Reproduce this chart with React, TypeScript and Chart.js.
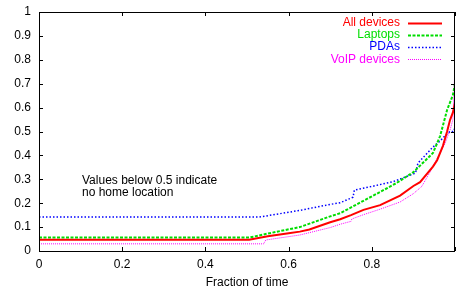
import React, { useEffect, useRef } from "react";
import { Chart, registerables } from "chart.js";

Chart.register(...registerables);

const seriesLabels = ["All devices", "Laptops", "PDAs", "VoIP devices"];
const seriesColors = ["#ff0000", "#00dd00", "#0000ff", "#ff00ff"];

const allX = [0, 0.505, 0.55, 0.6, 0.627, 0.65, 0.7, 0.724, 0.75, 0.78, 0.82, 0.868, 0.9, 0.916, 0.947, 0.957, 0.971, 0.981, 0.988, 0.995, 1.0];
const allY = [0.047, 0.047, 0.062, 0.074, 0.081, 0.09, 0.12, 0.133, 0.15, 0.172, 0.192, 0.232, 0.272, 0.288, 0.353, 0.38, 0.44, 0.5, 0.548, 0.58, 0.62];

const lapX = [0, 0.505, 0.55, 0.627, 0.7, 0.724, 0.78, 0.82, 0.86, 0.9, 0.947, 0.964, 0.981, 0.995, 1.0];
const lapY = [0.056, 0.056, 0.073, 0.1, 0.145, 0.158, 0.21, 0.247, 0.285, 0.33, 0.41, 0.48, 0.59, 0.653, 0.7];

const pdaX = [0, 0.53, 0.627, 0.7, 0.724, 0.755, 0.758, 0.8, 0.851, 0.905, 0.911, 0.947, 0.964, 0.975, 0.988, 0.997, 1.0];
const pdaY = [0.142, 0.142, 0.17, 0.195, 0.202, 0.225, 0.255, 0.27, 0.29, 0.326, 0.368, 0.435, 0.46, 0.48, 0.5, 0.5, 0.52];

const voipX = [0, 0.54, 0.545, 0.627, 0.7, 0.724, 0.75, 0.752, 0.78, 0.82, 0.868, 0.9, 0.92, 0.94, 0.964, 0.976, 0.988, 0.995, 1.0];
const voipY = [0.03, 0.03, 0.046, 0.067, 0.098, 0.112, 0.124, 0.134, 0.152, 0.175, 0.205, 0.24, 0.27, 0.33, 0.41, 0.45, 0.506, 0.55, 0.78];

const xTicks = [0, 0.2, 0.4, 0.6, 0.8, 1];
const yTicks = [0, 0.1, 0.2, 0.3, 0.4, 0.5, 0.6, 0.7, 0.8, 0.9, 1];
const xTitle = "Fraction of time";
const noteLines = ["Values below 0.5 indicate", "no home location"];

const FONT = "Liberation Sans, Arial, sans-serif";

function pts(xs: number[], ys: number[]) {
  return xs.map((x, i) => ({ x, y: ys[i] }));
}

const framePlugin = {
  id: "frameTicks",
  afterDatasetsDraw(chart: any) {
    const { ctx, chartArea, scales } = chart;
    const { left, right, top, bottom } = chartArea;
    ctx.save();
    ctx.strokeStyle = "#000";
    ctx.lineWidth = 1;
    ctx.beginPath();
    ctx.rect(left + 0.5, top + 0.5, right - left - 1, bottom - top);
    ctx.stroke();
    const tl = 4;
    ctx.beginPath();
    for (const v of xTicks) {
      const px = Math.round(scales.x.getPixelForValue(v)) + 0.5;
      ctx.moveTo(px, bottom);
      ctx.lineTo(px, bottom - tl);
      ctx.moveTo(px, top);
      ctx.lineTo(px, top + tl);
    }
    for (const v of yTicks) {
      const py = Math.round(scales.y.getPixelForValue(v)) + 0.5;
      ctx.moveTo(left, py);
      ctx.lineTo(left + tl, py);
      ctx.moveTo(right, py);
      ctx.lineTo(right - tl, py);
    }
    ctx.stroke();

    // note text
    ctx.fillStyle = "#000";
    ctx.font = "12px " + FONT;
    ctx.textBaseline = "middle";
    ctx.textAlign = "left";
    noteLines.forEach((t, i) => ctx.fillText(t, 82, 181 + i * 11.6));

    // legend
    const dsets = chart.data.datasets;
    dsets.forEach((ds: any, i: number) => {
      const y = 22.5 + i * 12.3;
      ctx.fillStyle = ds.borderColor;
      ctx.textAlign = "right";
      ctx.fillText(ds.label, 400, y);
      ctx.strokeStyle = ds.borderColor;
      ctx.lineWidth = ds.borderWidth;
      ctx.setLineDash(ds.borderDash || []);
      ctx.beginPath();
      ctx.moveTo(408, Math.round(y) + 0.5);
      ctx.lineTo(442, Math.round(y) + 0.5);
      ctx.stroke();
    });
    ctx.restore();
  },
};

export default function App() {
  const ref = useRef<HTMLCanvasElement>(null);
  useEffect(() => {
    document.body.style.margin = "0";
    const chart = new Chart(ref.current!, {
      type: "line",
      data: {
        datasets: [
          { label: seriesLabels[0], data: pts(allX, allY), borderColor: seriesColors[0], borderWidth: 2, pointRadius: 0, fill: false },
          { label: seriesLabels[1], data: pts(lapX, lapY), borderColor: seriesColors[1], borderWidth: 2, borderDash: [3, 1.5], pointRadius: 0, fill: false },
          { label: seriesLabels[2], data: pts(pdaX, pdaY), borderColor: seriesColors[2], borderWidth: 1.5, borderDash: [1.5, 2], pointRadius: 0, fill: false },
          { label: seriesLabels[3], data: pts(voipX, voipY), borderColor: seriesColors[3], borderWidth: 1, borderDash: [1, 1], pointRadius: 0, fill: false },
        ],
      },
      options: {
        responsive: false,
        animation: false,
        devicePixelRatio: 1,
        layout: { padding: { left: 0, right: 1, top: 12, bottom: 0 } },
        plugins: { legend: { display: false }, tooltip: { enabled: false } },
        scales: {
          x: {
            type: "linear",
            min: 0,
            max: 1,
            grid: { display: false, drawTicks: false },
            border: { display: false },
            afterBuildTicks: (s: any) => { s.ticks = xTicks.map((v) => ({ value: v })); },
            afterFit: (s: any) => { s.height = 40; s.paddingLeft = 0; s.paddingRight = 0; },
            ticks: {
              padding: 6,
              color: "#000",
              font: { family: FONT, size: 12 },
              maxRotation: 0,
              callback: (v: any) => (v === 1 ? "" : String(v)),
            },
            title: { display: true, text: xTitle, color: "#000", font: { family: FONT, size: 12 }, padding: { top: 0, bottom: 1 } },
          },
          y: {
            type: "linear",
            min: 0,
            max: 1,
            grid: { display: false, drawTicks: false },
            border: { display: false },
            afterBuildTicks: (s: any) => { s.ticks = yTicks.map((v) => ({ value: v })); },
            afterFit: (s: any) => { s.width = 39; s.paddingTop = 0; s.paddingBottom = 0; },
            ticks: {
              padding: 8,
              color: "#000",
              font: { family: FONT, size: 12 },
              callback: (v: any) => String(v),
            },
          },
        },
      },
      plugins: [framePlugin],
    });
    return () => chart.destroy();
  }, []);
  return (
    <div style={{ position: "absolute", left: 0, top: 0, width: 456, height: 291 }}>
      <canvas ref={ref} width={456} height={291} />
    </div>
  );
}
